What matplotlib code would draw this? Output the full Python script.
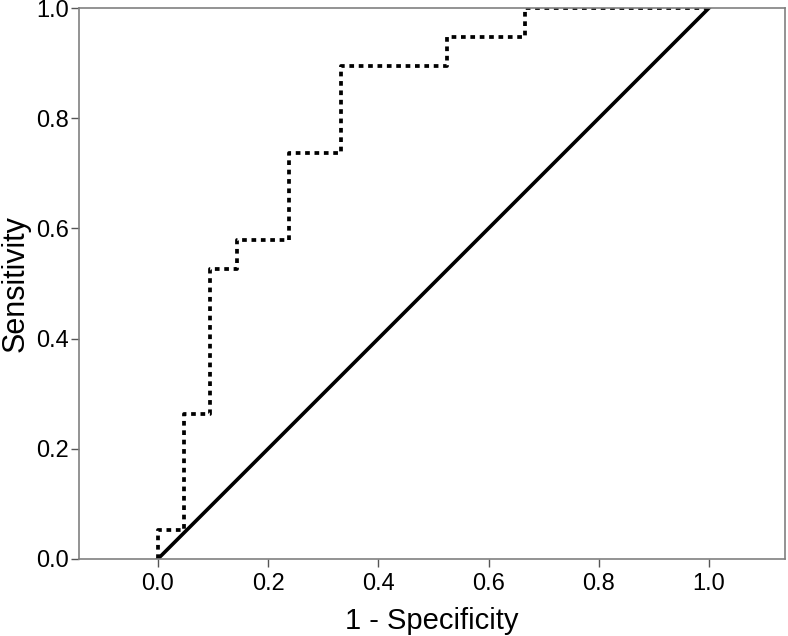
import numpy as np
import matplotlib.pyplot as plt

plt.rcParams['font.family'] = ['Liberation Sans', 'DejaVu Sans']

# ROC step curve (1 - specificity, sensitivity)
fpr = [0.0, 0.0, 0.048, 0.048, 0.095, 0.095, 0.143, 0.143, 0.238, 0.238,
       0.333, 0.333, 0.524, 0.524, 0.667, 0.667, 1.0]
tpr = [0.0, 0.053, 0.053, 0.263, 0.263, 0.526, 0.526, 0.579, 0.579, 0.737,
       0.737, 0.895, 0.895, 0.947, 0.947, 1.0, 1.0]
ref_x = [0.0, 1.0]
ref_y = [0.0, 1.0]
ticks = [0.0, 0.2, 0.4, 0.6, 0.8, 1.0]

fig = plt.figure(figsize=(7.88, 6.36), dpi=100)
ax = fig.add_axes([0.1003, 0.1211, 0.8959, 0.8663])

ax.plot(fpr, tpr, color='black', lw=2.7, linestyle=(0, (1.25, 1.25)),
        dash_capstyle='butt', solid_joinstyle='miter')
ax.plot(ref_x, ref_y, color='black', lw=2.6)

ax.set_xlim(-0.143, 1.138)
ax.set_ylim(0, 1)
ax.set_xticks(ticks)
ax.set_yticks(ticks)
ax.set_xticklabels(['%.1f' % t for t in ticks])
ax.set_yticklabels(['%.1f' % t for t in ticks])
ax.tick_params(direction='out', length=6, width=1, color='#555555',
               labelsize=17, top=False, right=False)
ax.tick_params(axis='y', pad=1.5)
ax.tick_params(axis='x', pad=4)
for s in ax.spines.values():
    s.set_color('#808080')
    s.set_linewidth(1.2)

ax.set_xlabel('1 - Specificity', fontsize=21, labelpad=9)
ax.set_ylabel('Sensitivity', fontsize=22, labelpad=4)

fig.savefig('out.png', dpi=100)
